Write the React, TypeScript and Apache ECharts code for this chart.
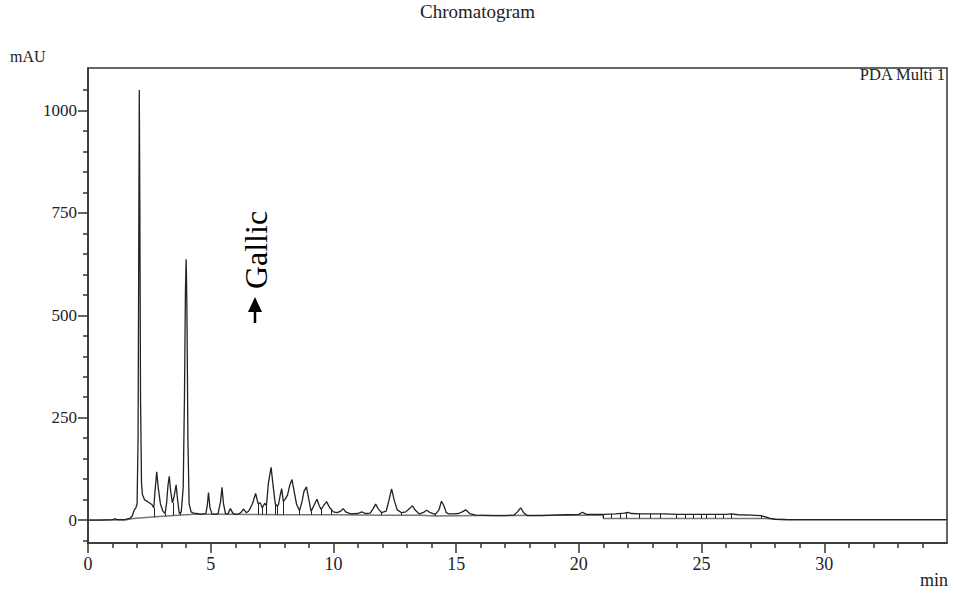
import React, { useEffect, useRef } from "react";
import * as echarts from "echarts";

// Chromatogram signal: [time (min), absorbance (mAU)]
const signal: [number, number][] = [
  [0.0, 0], [0.5, 0], [1.0, 1], [1.1, 3], [1.2, 1], [1.5, 1], [1.7, 4], [1.8, 10],
  [1.88, 24], [1.95, 30], [2.0, 40], [2.04, 200], [2.07, 700], [2.09, 1050], [2.11, 800],
  [2.14, 300], [2.18, 90], [2.22, 62], [2.3, 50], [2.45, 44], [2.6, 38], [2.68, 30],
  [2.73, 70], [2.8, 118], [2.86, 80], [2.95, 40], [3.05, 22], [3.14, 16], [3.2, 40],
  [3.26, 85], [3.31, 107], [3.37, 70], [3.44, 42], [3.5, 55], [3.59, 86], [3.65, 50],
  [3.72, 16], [3.8, 20], [3.88, 80], [3.93, 300], [3.97, 560], [4.0, 637], [4.03, 520],
  [4.07, 200], [4.12, 40], [4.2, 20], [4.3, 17], [4.45, 16], [4.6, 14], [4.7, 15],
  [4.8, 16], [4.86, 35], [4.91, 67], [4.97, 30], [5.05, 15], [5.2, 14], [5.3, 16],
  [5.4, 45], [5.46, 80], [5.52, 40], [5.6, 16], [5.7, 15], [5.8, 28], [5.9, 17],
  [6.0, 14], [6.15, 15], [6.25, 20], [6.34, 27], [6.45, 18], [6.55, 22], [6.7, 40],
  [6.83, 65], [6.93, 40], [7.02, 42], [7.1, 30], [7.2, 41], [7.27, 35], [7.35, 90],
  [7.46, 129], [7.55, 80], [7.63, 40], [7.7, 34], [7.76, 38], [7.83, 60], [7.89, 77],
  [7.96, 45], [8.02, 50], [8.13, 61], [8.22, 85], [8.31, 99], [8.4, 70], [8.5, 38],
  [8.62, 23], [8.72, 45], [8.8, 70], [8.9, 81], [9.0, 50], [9.09, 21], [9.2, 35],
  [9.33, 51], [9.42, 35], [9.5, 26], [9.6, 35], [9.72, 45], [9.85, 30], [10.0, 20],
  [10.15, 18], [10.3, 22], [10.4, 28], [10.5, 20], [10.7, 15], [11.0, 16], [11.15, 20],
  [11.3, 16], [11.5, 17], [11.62, 28], [11.72, 39], [11.82, 28], [11.96, 18], [12.15, 22],
  [12.27, 50], [12.37, 76], [12.47, 50], [12.6, 25], [12.78, 18], [12.95, 20], [13.1, 28],
  [13.22, 35], [13.32, 25], [13.5, 15], [13.65, 18], [13.8, 24], [13.95, 18], [14.15, 14],
  [14.3, 25], [14.4, 46], [14.5, 35], [14.6, 18], [14.7, 15], [14.9, 15], [15.1, 16],
  [15.25, 20], [15.39, 25], [15.55, 16], [15.8, 12], [16.5, 11], [17.0, 11], [17.35, 12],
  [17.5, 20], [17.63, 30], [17.75, 18], [17.9, 11], [18.5, 11], [19.0, 12], [19.5, 13],
  [20.0, 14], [20.15, 19], [20.3, 14], [20.7, 14], [21.0, 14], [21.5, 15], [21.85, 17],
  [22.0, 19], [22.15, 16], [22.5, 15], [23.0, 15], [23.5, 15], [24.0, 14], [24.5, 14],
  [25.0, 14], [25.5, 14], [26.0, 14], [26.2, 15], [26.5, 13], [27.0, 12], [27.4, 11],
  [27.6, 8], [27.8, 4], [28.0, 2], [28.5, 1], [30.0, 1], [32.0, 1], [33.0, 1],
  [34.0, 1], [35.0, 1],
];

// Integration baseline: [time (min), mAU]
const baseline: [number, number][] = [
  [0, 0], [1.5, 0], [1.84, 4], [2.5, 7], [3.2, 10], [4.3, 14], [5, 14], [8, 13],
  [10, 13], [12, 12], [13.5, 12], [14.2, 10], [16, 11], [19, 12], [20.98, 12],
  [21.0, 4], [27.6, 4], [28.0, 2], [28.5, 1], [35, 1],
];

// Peak drop lines: [time, signal top, baseline bottom]
const dropLines: [number, number, number][] = [
  [2.68, 30, 7], [3.14, 16, 10], [3.46, 42, 11], [3.75, 17, 12], [6.93, 40, 13],
  [7.1, 30, 13], [7.27, 35, 13], [7.63, 40, 13], [7.72, 35, 13], [7.96, 45, 13],
  [8.62, 23, 13], [9.09, 21, 13], [9.5, 26, 13], [9.9, 25, 13], [11.96, 18, 12],
  [12.78, 18, 12], [14.15, 14, 10], [21.0, 14, 4], [21.33, 15, 4], [21.67, 16, 4],
  [21.94, 18, 4], [22.48, 15, 4], [22.89, 15, 4], [23.3, 15, 4], [23.98, 14, 4],
  [24.32, 14, 4], [24.66, 14, 4], [25.0, 14, 4], [25.2, 14, 4], [25.54, 14, 4],
  [25.88, 14, 4], [26.22, 15, 4], [27.44, 11, 4],
];

const yMajorValues = [0, 250, 500, 750, 1000];
const yMinorValues = [-50, 50, 100, 150, 200, 300, 350, 400, 450, 550, 600, 650, 700, 800, 850, 900, 950, 1050];
const xMajorValues = [0, 5, 10, 15, 20, 25, 30];
const xMinorValues = [1, 2, 3, 4, 6, 7, 8, 9, 11, 12, 13, 14, 16, 17, 18, 19, 21, 22, 23, 24, 26, 27, 28, 29, 31, 32, 33, 34];

const FONT = "'Liberation Serif', 'Times New Roman', serif";
const AXIS_COLOR = "#333";
const GRID_RECT = { left: 88, right: 8, top: 68, bottom: 61 };

export default function App() {
  const ref = useRef<HTMLDivElement>(null);
  useEffect(() => {
    document.body.style.margin = "0";
    if (!ref.current) return;
    const chart = echarts.init(ref.current, null, { renderer: "svg" });
    const tickStyle = { color: AXIS_COLOR, width: 1.5 };
    chart.setOption({
      animation: false,
      backgroundColor: "#fff",
      title: {
        text: "Chromatogram",
        left: "center",
        top: 2,
        padding: 0,
        textStyle: { fontFamily: FONT, fontSize: 19, fontWeight: "normal", color: "#222" },
      },
      grid: [
        { ...GRID_RECT, show: true, borderColor: AXIS_COLOR, borderWidth: 1.5, backgroundColor: "transparent" },
        { ...GRID_RECT, show: false },
      ],
      xAxis: [
        {
          type: "value",
          gridIndex: 0,
          min: 0,
          max: 35,
          position: "bottom",
          splitLine: { show: false },
          axisLine: { show: true, onZero: false, lineStyle: tickStyle },
          axisTick: { show: true, customValues: xMajorValues, length: 10, lineStyle: tickStyle },
          axisLabel: {
            show: true,
            customValues: xMajorValues,
            margin: 12,
            fontFamily: FONT,
            fontSize: 18,
            color: "#222",
            formatter: (v: number) => String(v),
          },
        },
        {
          type: "value",
          gridIndex: 1,
          min: 0,
          max: 35,
          position: "bottom",
          splitLine: { show: false },
          axisLine: { show: false, onZero: false },
          axisTick: { show: true, customValues: xMinorValues, length: 5, lineStyle: tickStyle },
          axisLabel: { show: false },
        },
      ],
      yAxis: [
        {
          type: "value",
          gridIndex: 0,
          min: -56,
          max: 1104,
          position: "left",
          splitLine: { show: false },
          axisLine: { show: true, onZero: false, lineStyle: tickStyle },
          axisTick: { show: true, customValues: yMajorValues, length: 10, lineStyle: tickStyle },
          axisLabel: {
            show: true,
            customValues: yMajorValues,
            margin: 11,
            fontFamily: FONT,
            fontSize: 17,
            color: "#222",
            formatter: (v: number) => String(v),
          },
        },
        {
          type: "value",
          gridIndex: 1,
          min: -56,
          max: 1104,
          position: "left",
          splitLine: { show: false },
          axisLine: { show: false, onZero: false },
          axisTick: { show: true, customValues: yMinorValues, length: 5, lineStyle: tickStyle },
          axisLabel: { show: false },
        },
      ],
      series: [
        {
          type: "line",
          name: "baseline",
          xAxisIndex: 0,
          yAxisIndex: 0,
          data: baseline,
          showSymbol: false,
          lineStyle: { color: "#777", width: 1.5 },
          silent: true,
          z: 1,
        },
        {
          type: "line",
          name: "PDA Multi 1",
          xAxisIndex: 0,
          yAxisIndex: 0,
          data: signal,
          showSymbol: false,
          lineStyle: { color: "#222", width: 1.3 },
          silent: true,
          z: 2,
          markLine: {
            silent: true,
            symbol: ["none", "none"],
            label: { show: false },
            lineStyle: { color: "#222", width: 1, type: "solid" },
            data: dropLines.map(([t, top, bot]) => [{ coord: [t, top] }, { coord: [t, bot] }]),
          },
        },
      ],
      graphic: [
        {
          type: "text",
          left: 10,
          top: 48,
          style: { text: "mAU", fontFamily: FONT, fontSize: 16, fill: "#222" },
        },
        {
          type: "text",
          right: 7,
          top: 571,
          style: { text: "min", fontFamily: FONT, fontSize: 18, fill: "#222" },
        },
        {
          type: "text",
          right: 9,
          top: 66,
          style: { text: "PDA Multi 1", fontFamily: FONT, fontSize: 16.5, fill: "#222" },
        },
        {
          type: "text",
          x: 256,
          y: 250,
          rotation: Math.PI / 2,
          style: {
            text: "Gallic",
            fontFamily: FONT,
            fontSize: 32,
            fill: "#000",
            align: "center",
            verticalAlign: "middle",
          },
        },
        {
          type: "polygon",
          shape: { points: [[255, 297], [248, 312], [262, 312]] },
          style: { fill: "#000" },
        },
        {
          type: "line",
          shape: { x1: 255, y1: 311, x2: 255, y2: 323 },
          style: { stroke: "#000", lineWidth: 2.5 },
        },
      ],
    });
    return () => chart.dispose();
  }, []);
  return <div ref={ref} style={{ width: 955, height: 604 }} />;
}
